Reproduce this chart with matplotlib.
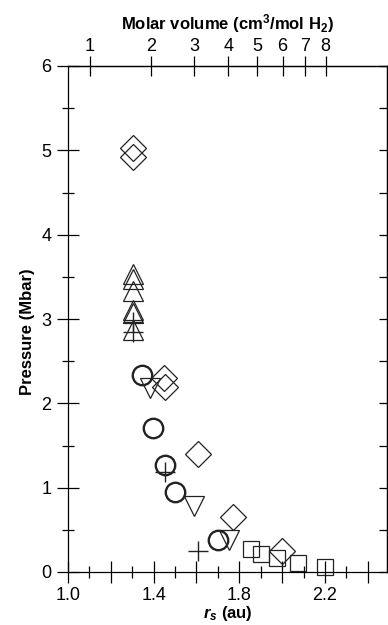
import matplotlib.pyplot as plt
import numpy as np
from matplotlib.ticker import FixedLocator, FixedFormatter, MultipleLocator

plt.rcParams['font.family'] = ['Liberation Sans', 'DejaVu Sans']
plt.rcParams['mathtext.fontset'] = 'custom'
plt.rcParams['mathtext.rm'] = 'Liberation Sans:bold'
plt.rcParams['mathtext.it'] = 'Liberation Sans:italic:bold'
plt.rcParams['mathtext.bf'] = 'Liberation Sans:bold'

# data: rs (au), pressure (Mbar)
diamond_rs = [1.304, 1.304, 1.449, 1.453, 1.607, 1.77, 2.00]
diamond_p = [5.03, 4.92, 2.30, 2.19, 1.40, 0.65, 0.25]

tri_up_rs = [1.304, 1.304, 1.304, 1.304, 1.304, 1.304]
tri_up_p = [3.53, 3.48, 3.33, 3.11, 3.07, 2.87]

plus_rs = [1.304, 1.304, 1.453, 1.607]
plus_p = [2.97, 2.84, 1.19, 0.25]

circle_rs = [1.346, 1.397, 1.453, 1.50, 1.70]
circle_p = [2.34, 1.71, 1.27, 0.95, 0.38]

tri_down_rs = [1.383, 1.59, 1.75]
tri_down_p = [2.18, 0.78, 0.38]

square_rs = [1.855, 1.90, 1.977, 2.075, 2.20]
square_p = [0.27, 0.21, 0.17, 0.11, 0.06]

volume_ticks = [1, 2, 3, 4, 5, 6, 7, 8]


def rs_to_vol(rs):
    return 0.7476 * np.asarray(rs) ** 3


def vol_to_rs(v):
    return np.cbrt(np.asarray(v) / 0.7476)


fig = plt.figure(figsize=(3.88, 6.25), dpi=100)
ax = fig.add_axes([68 / 388, 53 / 625, 319 / 388, 506 / 625])

mk = dict(linestyle='none', markerfacecolor='none', markeredgecolor='#222222', clip_on=False)
ax.plot(diamond_rs, diamond_p, marker='D', markersize=13, markeredgewidth=0.9, **mk)
ax.plot(tri_up_rs, tri_up_p, marker='^', markersize=14, markeredgewidth=0.9, **mk)
ax.plot(plus_rs, plus_p, marker='+', markersize=15, markeredgewidth=1.0, **mk)
ax.plot(circle_rs, circle_p, marker='o', markersize=14, markeredgewidth=1.7, **mk)
ax.plot(tri_down_rs, tri_down_p, marker='v', markersize=14, markeredgewidth=0.9, **mk)
ax.plot(square_rs, square_p, marker='s', markersize=12, markeredgewidth=0.9, **mk)

ax.set_xlim(1.0, 2.49)
ax.set_ylim(0, 6)

for s in ['left', 'bottom', 'top', 'right']:
    ax.spines[s].set_linewidth(0.9)

ax.xaxis.set_major_locator(FixedLocator([1.0, 1.2, 1.4, 1.6, 1.8, 2.0, 2.2, 2.4]))
ax.xaxis.set_major_formatter(FixedFormatter(['1.0', '', '1.4', '', '1.8', '', '2.2', '']))
ax.xaxis.set_minor_locator(MultipleLocator(0.1))
ax.yaxis.set_major_locator(MultipleLocator(1))
ax.yaxis.set_minor_locator(MultipleLocator(0.5))
ax.tick_params(which='major', direction='inout', length=16, width=0.9, labelsize=13)
ax.tick_params(axis='x', which='major', pad=3)
ax.tick_params(axis='y', which='major', pad=4)
ax.tick_params(which='minor', direction='inout', length=8, width=0.9)
ax.tick_params(top=False, right=False)

sec = ax.secondary_xaxis('top', functions=(rs_to_vol, vol_to_rs))
sec.xaxis.set_major_locator(FixedLocator(volume_ticks))
sec.xaxis.set_minor_locator(FixedLocator([]))
sec.tick_params(direction='inout', length=14, width=0.9, labelsize=13, pad=1)
sec.spines['top'].set_linewidth(0.9)
sec.set_xlabel(r'Molar volume (cm$^3$/mol H$_2$)', fontsize=12, fontweight='bold', labelpad=6)

rsec = ax.secondary_yaxis('right')
rsec.yaxis.set_major_locator(MultipleLocator(0.5))
rsec.yaxis.set_minor_locator(FixedLocator([]))
rsec.tick_params(direction='in', length=6, width=0.9, labelright=False)
rsec.spines['right'].set_linewidth(0.9)

ax.set_xlabel(r'$r_s$ (au)', fontsize=12, fontweight='bold', labelpad=0)
ax.set_ylabel('Pressure (Mbar)', fontsize=12, fontweight='bold', labelpad=2)
ax.yaxis.set_label_coords(-0.105, 0.475)

fig.savefig('out.png', dpi=100)
